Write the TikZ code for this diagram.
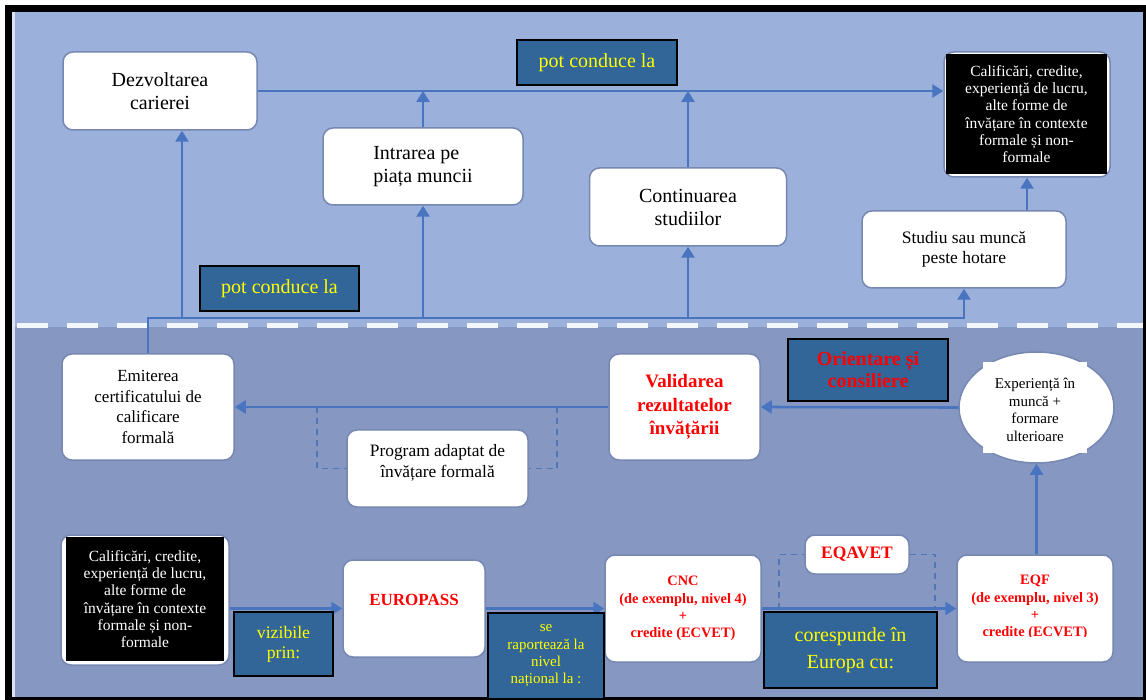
\documentclass[tikz,border=0pt]{standalone}
\usepackage{fontspec}
\setmainfont{Liberation Serif}
\usetikzlibrary{arrows.meta,shapes.geometric}
\definecolor{bgtop}{RGB}{155,176,219}
\definecolor{bgbot}{RGB}{134,152,194}
\definecolor{conn}{RGB}{72,116,192}
\definecolor{lblfill}{RGB}{50,101,152}
\definecolor{lbltext}{RGB}{255,255,0}
\definecolor{boxedge}{RGB}{118,136,178}
\definecolor{redtxt}{RGB}{255,0,0}
\newcommand{\myfs}[2]{\fontsize{#1}{#2}\selectfont}
\begin{document}
\begin{tikzpicture}[x=1pt,y=-1pt,
  wbox/.style={draw=boxedge, line width=1.5pt, fill=white, rounded corners=10pt, align=center, inner sep=0pt},
  blk/.style={fill=black, text=white, align=center, inner sep=0pt, font=\myfs{15.5}{17.3}},
  lbl/.style={draw=black, line width=1.8pt, fill=lblfill, text=lbltext, align=center, inner sep=0pt},
  redb/.style={text=redtxt, font=\bfseries},
  arr/.style={draw=conn, line width=2.6pt, -{Triangle[length=11pt,width=13pt]}},
  ln/.style={draw=conn, line width=2.6pt},
  dsh/.style={draw=conn!85!gray, line width=1.6pt, dash pattern=on 6pt off 5pt}
]
\useasboundingbox (0,0) rectangle (1146,700);
\fill[white] (0,0) rectangle (1146,700);
\fill[black] (5,5) rectangle (1146,700);
\fill[bgtop] (12,12) rectangle (1143,327);
\fill[bgbot] (12,327) rectangle (1143,697);
\fill[white!65!bgtop] (12,12) rectangle (15,697);
\draw[white!88!bgtop, line width=5pt, dash pattern=on 31pt off 19pt] (17,326) -- (1143,326);

% ---------- top section ----------
\node[wbox, minimum width=194pt, minimum height=78pt, font=\myfs{20}{23}] (dez) at (160,91) {Dezvoltarea\\carierei};
\node[wbox, minimum width=200pt, minimum height=77pt, font=\myfs{20}{23}] (intr) at (423,166.5) {\begin{tabular}{@{}l@{}}Intrarea pe\\piața muncii\end{tabular}};
\node[wbox, minimum width=197pt, minimum height=78pt, font=\myfs{20}{23}] (cont) at (688,207) {Continuarea\\studiilor};
\node[wbox, minimum width=166pt, minimum height=125pt] (calT) at (1027,114.5) {};
\node[blk, minimum width=161pt, minimum height=120pt] (calTt) at (1026.5,114) {Calificări, credite,\\experiență de lucru,\\alte forme de\\învățare în contexte\\formale și non-\\formale};
\node[wbox, minimum width=204pt, minimum height=77pt, font=\myfs{17.5}{20}] (stud) at (964,249.5) {Studiu sau muncă\\peste hotare};

% ---------- middle section ----------
\node[wbox, minimum width=172pt, minimum height=106pt, font=\myfs{17}{20.5}] (emit) at (148,407) {Emiterea\\certificatului de\\calificare\\formală};
\node[wbox, minimum width=151pt, minimum height=106pt, redb, font=\bfseries\myfs{19}{23.5}] (val) at (684.5,407) {Validarea\\rezultatelor\\învățării};
\node[wbox, minimum width=181pt, minimum height=77pt] (prog) at (437.5,468.5) {};
\node[font=\myfs{17.4}{21}, align=center] (progt) at (437.5,463) {Program adaptat de\\învățare formală};
\node[ellipse, draw=boxedge, line width=1.5pt, fill=white, minimum width=155pt, minimum height=111pt, inner sep=0pt] (exp) at (1036.5,407.5) {};
\fill[white] (983,362) rectangle (1087,453);
\node[font=\myfs{15}{17.5}, align=center] (expt) at (1035,410) {Experiență în\\muncă +\\formare\\ulterioare};

% ---------- bottom section ----------
\node[wbox, minimum width=168pt, minimum height=130pt] (calB) at (145,600) {};
\node[blk, minimum width=158pt, minimum height=124pt] (calBt) at (145,599) {Calificări, credite,\\experiență de lucru,\\alte forme de\\învățare în contexte\\formale și non-\\formale};
\node[wbox, minimum width=142pt, minimum height=97pt] (eur) at (414,608.5) {};
\node[redb, font=\bfseries\myfs{17}{20}] (eurt) at (414,600) {EUROPASS};
\node[wbox, minimum width=156pt, minimum height=107pt, redb, font=\bfseries\myfs{14.4}{17.4}] (cnc) at (683,608.5) {CNC\\(de exemplu, nivel 4)\\+\\credite (ECVET)};
\node[wbox, minimum width=104pt, minimum height=39pt, redb, font=\bfseries\myfs{17.5}{20}] (eqav) at (857,554.5) {EQAVET};
\node[wbox, minimum width=156pt, minimum height=107pt] (eqf) at (1035,608.5) {};
\begin{scope}
\clip (960,560) rectangle (1110,636);
\node[redb, font=\bfseries\myfs{14.4}{17.2}, align=center] (eqft) at (1035,607.5) {EQF\\(de exemplu, nivel 3)\\+\\credite (ECVET)};
\end{scope}

% ---------- connectors ----------
\draw[arr] (dez.east) -- (dez.east -| calT.west);
\draw[arr] (intr.north) -- (intr.north |- dez.east);
\draw[arr] (cont.north) -- (cont.north |- dez.east);
\draw[arr] (stud.north -| calT.south) -- (calT.south);
\coordinate (b0) at (148,318);
\coordinate (bd) at (182,318);
\draw[arr] (emit.north) -- (b0) -| (stud.south);
\draw[arr] (bd) -- (bd |- dez.south);
\draw[arr] (intr.south |- b0) -- (intr.south);
\draw[arr] (cont.south |- b0) -- (cont.south);

\draw[arr] (exp.west) -- (val.east);
\draw[arr] (val.west) -- (emit.east);
\coordinate (dl) at (317,407);
\coordinate (dr) at (557,407);
\draw[dsh] (dl) -- (dl |- prog.west) -- (prog.west);
\draw[dsh] (dr) -- (dr |- prog.east) -- (prog.east);

\draw[arr] (calB.east |- eur.west) -- (eur.west);
\draw[arr] (eur.east) -- (cnc.west);
\draw[arr] (cnc.east) -- (eqf.west);
\coordinate (el) at (779,608.5);
\coordinate (er) at (935,608.5);
\draw[dsh] (el) -- (el |- eqav.west) -- (eqav.west);
\draw[dsh] (eqav.east) -- (eqav.east -| er) -- (er);
\draw[arr] (eqf.north -| exp.south) -- (exp.south);

% ---------- labels ----------
\node[lbl, minimum width=160pt, minimum height=45pt, font=\myfs{20}{23}] (pot1) at (597,62.5) {pot conduce la};
\node[lbl, minimum width=159pt, minimum height=45pt, font=\myfs{20}{23}] (pot2) at (279.5,288.5) {pot conduce la};
\node[lbl, minimum width=160pt, minimum height=62pt, text=redtxt, font=\bfseries\myfs{20}{22}] (ori) at (868,370) {Orientare și\\consiliere};
\node[lbl, minimum width=99pt, minimum height=64pt, font=\myfs{17.7}{20}] (viz) at (283.5,644) {vizibile\\prin:};
\node[lbl, minimum width=116pt, minimum height=86pt, font=\myfs{15}{17.3}] (serap) at (546,656) {se\\raportează la\\nivel\\național la :};
\node[lbl, minimum width=173pt, minimum height=76pt, font=\myfs{20}{27}] (cor) at (850.5,650) {corespunde în\\Europa cu:};
\end{tikzpicture}
\end{document}
